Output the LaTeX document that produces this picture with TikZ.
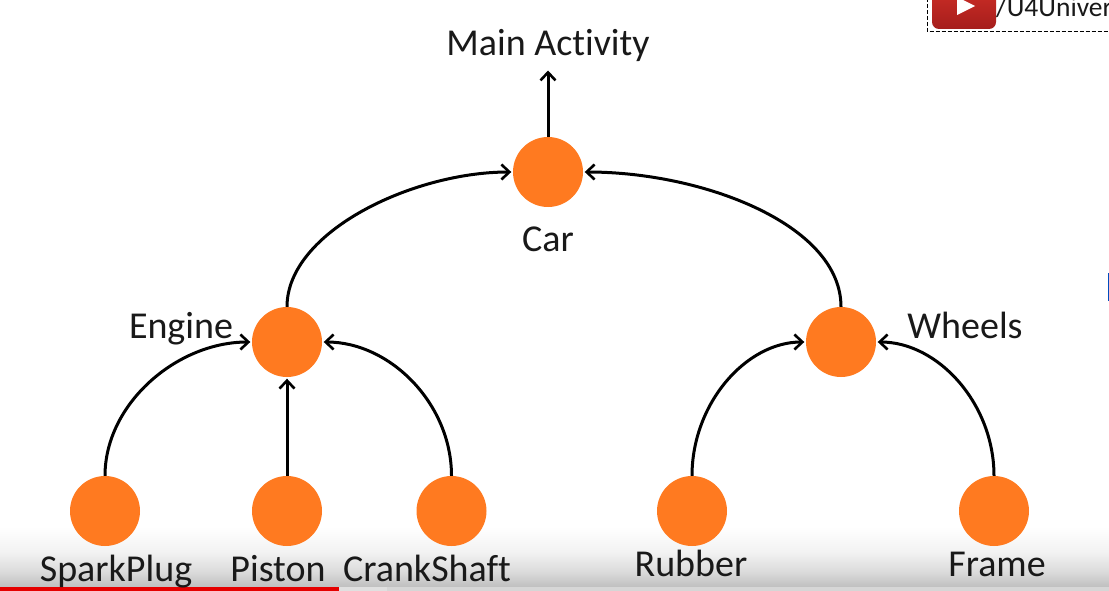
\documentclass[tikz,border=0pt]{standalone}
\usepackage{fontspec}
\setmainfont[Ligatures=NoCommon]{Carlito}
\usetikzlibrary{arrows.meta,shadings}
\definecolor{dotorange}{RGB}{255,122,32}
\definecolor{ytred}{RGB}{205,45,38}
\definecolor{ytdark}{RGB}{165,30,28}
\pgfdeclareverticalshading{playerfade}{100bp}{
  rgb(0bp)=(0.72,0.72,0.72);
  rgb(25bp)=(0.72,0.72,0.72);
  rgb(40bp)=(0.86,0.86,0.86);
  rgb(55bp)=(0.95,0.95,0.95);
  rgb(75bp)=(1,1,1);
  rgb(100bp)=(1,1,1)}
\tikzset{
  x=1pt,y=-1pt,
  dot/.style={circle,fill=dotorange,draw=none,minimum size=70pt,inner sep=0pt},
  lab/.style={font=\fontsize{38}{38}\selectfont,text=black!90,inner sep=0pt,anchor=base},
  link/.style={draw=black,line width=3pt,-{Straight Barb[length=8pt,width=15pt,line width=2.6pt]},shorten >=1.5pt},
}
\begin{document}
\begin{tikzpicture}
\useasboundingbox (0,0) rectangle (1109,591);
\fill[white] (0,0) rectangle (1109,591);
% bottom fade of the player
\shade[shading=playerfade] (0,526) rectangle (1109,591);
\fill[black!12] (339,587) rectangle (387,591);
\fill[black!16] (387,587) rectangle (1109,591);
\fill[red!90!black] (0,587) rectangle (339,591);
% corner badge
\draw[black,line width=1pt,dash pattern=on 4pt off 2pt] (927,-2) -- (927,31.5) -- (1112,31.5);
\shade[top color=ytred,bottom color=ytdark,rounded corners=7pt] (932,-12) rectangle (996,29);
\fill[white] (957,-3) -- (975,6) -- (957,15) -- cycle;
\node[font=\fontsize{27.5}{28}\selectfont,text=black!90,inner sep=0pt,anchor=base west] (badge) at (996,17) {/U4Univer};
\fill[blue!60!cyan!75!black] (1107.5,273) rectangle (1109,301);
% nodes
\node[dot] (car) at (548,172) {};
\node[dot] (engine) at (287,342) {};
\node[dot] (wheels) at (841,342) {};
\node[dot] (spark) at (105,511) {};
\node[dot] (piston) at (287,511) {};
\node[dot] (crank) at (451.5,511) {};
\node[dot] (rubber) at (692,511) {};
\node[dot] (frame) at (994,511) {};
% labels
\node[lab] (main) at (548,56) {Main Activity};
\node[lab] (carl) at (548,251) {Car};
\node[lab] (enl) at (181,338) {Engine};
\node[lab] (whl) at (965,338) {Wheels};
\node[lab] (spl) at (116,581) {SparkPlug};
\node[lab] (pil) at (278,581) {Piston};
\node[lab] (crl) at (427,581) {CrankShaft};
\node[lab] (rul) at (691,576) {Rubber};
\node[lab] (frl) at (997,576) {Frame};
% links
\draw[link] (car.north) -- (548,69) coordinate (top);
\draw[link] (engine.north) to[out=90,in=180,out distance=75pt,in distance=100pt] (car.west);
\draw[link] (wheels.north) to[out=90,in=0,out distance=82pt,in distance=120pt] (car.east);
\draw[link] (spark.north) to[out=90,in=180,out distance=72pt,in distance=75pt] (engine.west);
\draw[link] (piston.north) -- (engine.south);
\draw[link] (crank.north) to[out=90,in=0,out distance=72pt,in distance=68pt] (engine.east);
\draw[link] (rubber.north) to[out=90,in=180,out distance=72pt,in distance=60pt] (wheels.west);
\draw[link] (frame.north) to[out=90,in=0,out distance=72pt,in distance=62pt] (wheels.east);
\end{tikzpicture}
\end{document}
